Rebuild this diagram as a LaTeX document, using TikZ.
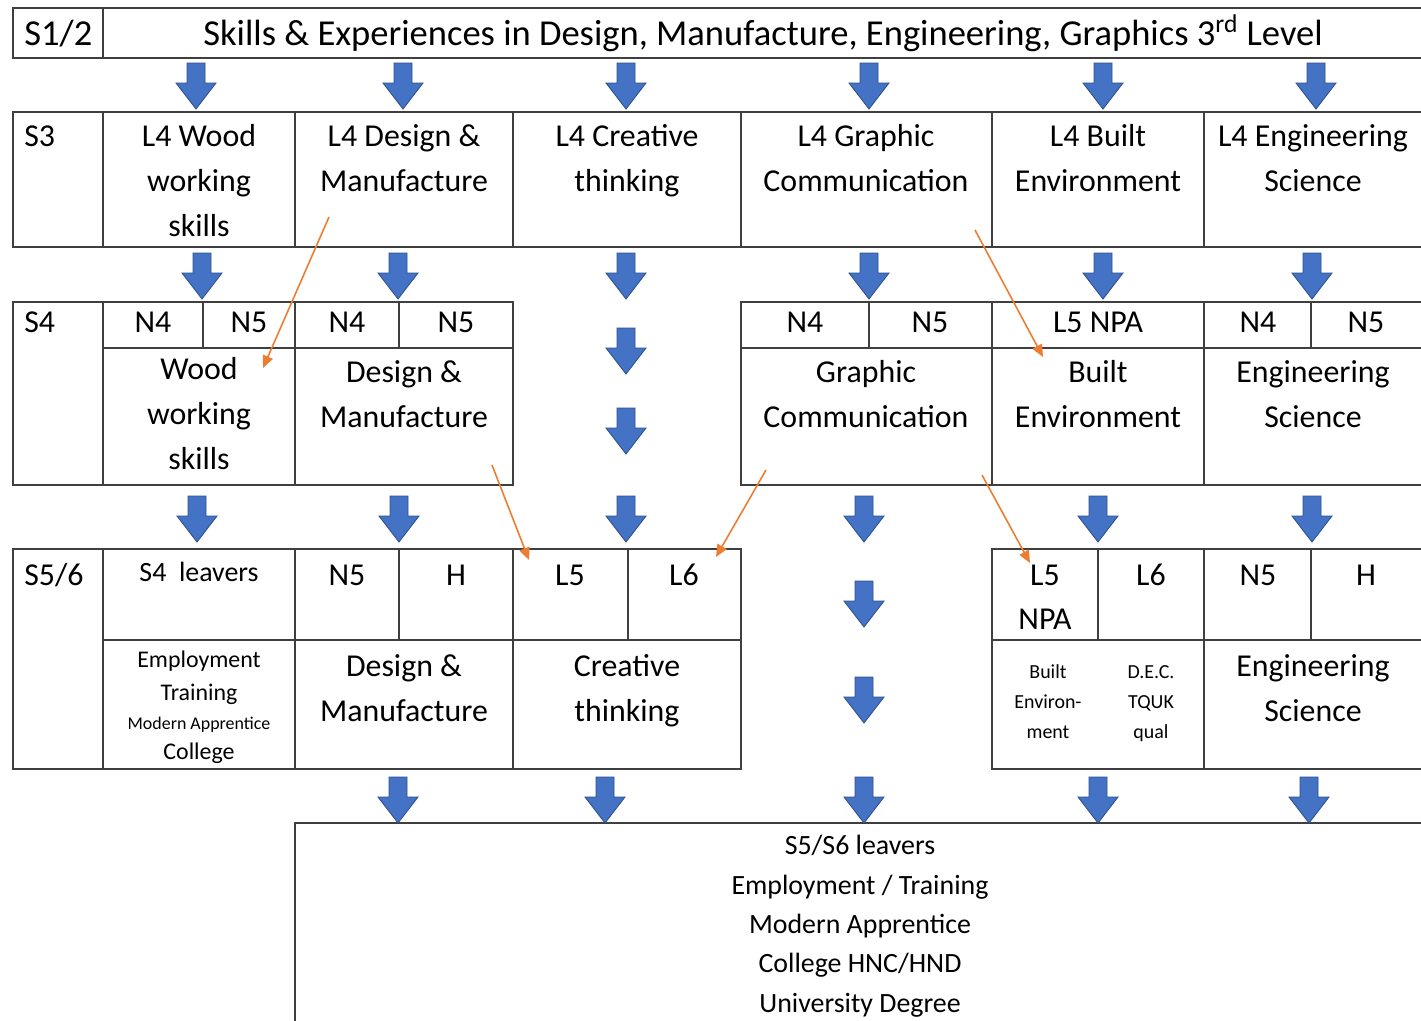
\documentclass[tikz,border=0pt]{standalone}
\usepackage{fontspec}
\setmainfont{Carlito}
\usetikzlibrary{arrows.meta}
\definecolor{gridc}{HTML}{3F3F3F}
\definecolor{bluef}{HTML}{4472C4}
\definecolor{blued}{HTML}{2F528F}
\definecolor{orng}{HTML}{ED7D31}
\newcommand\blk[2]{\filldraw[barrow] ({#1-9},{#2}) -- ({#1+9},{#2}) -- ({#1+9},{#2+20}) -- ({#1+20},{#2+20}) -- ({#1},{#2+46}) -- ({#1-20},{#2+20}) -- ({#1-9},{#2+20}) -- cycle;}
\tikzset{
  grid/.style={draw=gridc, line width=1.1pt},
  barrow/.style={fill=bluef, draw=blued, line width=0.5pt, line join=miter},
  oarrow/.style={draw=orng, line width=0.9pt, -{Triangle[length=7pt,width=6pt]}},
  txtL/.style={inner sep=0pt, anchor=base, font=\fontsize{20.8}{25}\selectfont},
  txtM/.style={inner sep=0pt, anchor=base, font=\fontsize{18.14}{22}\selectfont},
  txtS/.style={inner sep=0pt, anchor=base, font=\fontsize{15.87}{19}\selectfont},
  txtE/.style={inner sep=0pt, anchor=base, font=\fontsize{13.6}{16}\selectfont},
  txtB/.style={inner sep=0pt, anchor=base, font=\fontsize{11.34}{14}\selectfont},
  txtT/.style={inner sep=0pt, anchor=base, font=\fontsize{10.2}{12}\selectfont},
}
\begin{document}
\begin{tikzpicture}[x=0.02cm,y=-0.02cm]
\useasboundingbox (0,0) rectangle (1421,1021);
\clip (0,0) rectangle (1421,1021);
\fill[white] (0,0) rectangle (1421,1021);

% ---- grid lines ----
% S1/2
\draw[grid] (1430,8) -- (13,8) -- (13,58) -- (1430,58);
\draw[grid] (103,8) -- (103,58);
% S3
\draw[grid] (1430,112) -- (13,112) -- (13,247) -- (1430,247);
\foreach \x in {103,295,513,741,992,1204} {\draw[grid] (\x,112) -- (\x,247);}
% S4 left
\draw[grid] (13,302) rectangle (513,485);
\foreach \x in {103,295} {\draw[grid] (\x,302) -- (\x,485);}
\draw[grid] (103,348) -- (513,348);
\foreach \x in {203,399} {\draw[grid] (\x,302) -- (\x,348);}
% S4 right
\draw[grid] (1430,302) -- (741,302) -- (741,485) -- (1430,485);
\foreach \x in {992,1204} {\draw[grid] (\x,302) -- (\x,485);}
\draw[grid] (741,348) -- (1430,348);
\foreach \x in {869,1311} {\draw[grid] (\x,302) -- (\x,348);}
% S5/6 left
\draw[grid] (13,549) rectangle (741,769);
\foreach \x in {103,295,513} {\draw[grid] (\x,549) -- (\x,769);}
\draw[grid] (103,640) -- (741,640);
\foreach \x in {399,628} {\draw[grid] (\x,549) -- (\x,640);}
% S5/6 right
\draw[grid] (1430,549) -- (992,549) -- (992,769) -- (1430,769);
\draw[grid] (1204,549) -- (1204,769);
\draw[grid] (992,640) -- (1430,640);
\foreach \x in {1098,1311} {\draw[grid] (\x,549) -- (\x,640);}
% bottom box
\draw[grid] (1430,823) -- (295,823) -- (295,1030);

% ---- blue block arrows ----
\foreach \x in {196,403,626,869,1103,1316} {\blk{\x}{63}}
\foreach \x in {202,398,626,869,1103,1312} {\blk{\x}{253}}
\blk{626}{328}
\blk{626}{408}
\foreach \x in {197,399,626,864,1098,1312} {\blk{\x}{496}}
\blk{864}{581}
\blk{864}{677}
\foreach \x in {398,605,864,1098,1309} {\blk{\x}{777}}

% ---- texts ----
\node[txtL, anchor=base west] (s12) at (24,46) {S1/2};
\node[txtL] (title) at (763,46) {Skills \& Experiences in Design, Manufacture, Engineering, Graphics 3\textsuperscript{rd} Level};

\node[txtM, anchor=base west] (s3) at (24,146) {S3};
\node[txtM] (w1) at (199,146) {L4 Wood};
\node[txtM] (w2) at (199,191) {working};
\node[txtM] (w3) at (199,236) {skills};
\node[txtM] (d1) at (404,146) {L4 Design \&};
\node[txtM] (d2) at (404,191) {Manufacture};
\node[txtM] (c1) at (627,146) {L4 Creative};
\node[txtM] (c2) at (627,191) {thinking};
\node[txtM] (g1) at (866,146) {L4 Graphic};
\node[txtM] (g2) at (866,191) {Communication};
\node[txtM] (b1) at (1098,146) {L4 Built};
\node[txtM] (b2) at (1098,191) {Environment};
\node[txtM] (e1) at (1313,146) {L4 Engineering};
\node[txtM] (e2) at (1313,191) {Science};

\node[txtM, anchor=base west] (s4) at (24,332) {S4};
\node[txtM] (n4a) at (153,332) {N4};
\node[txtM] (n5a) at (249,332) {N5};
\node[txtM] (n4b) at (347,332) {N4};
\node[txtM] (n5b) at (456,332) {N5};
\node[txtM] (n4c) at (805,332) {N4};
\node[txtM] (n5c) at (930,332) {N5};
\node[txtM] (l5npa) at (1098,332) {L5 NPA};
\node[txtM] (n4d) at (1258,332) {N4};
\node[txtM] (n5d) at (1366,332) {N5};
\node[txtM] (sw1) at (199,379) {Wood};
\node[txtM] (sw2) at (199,424) {working};
\node[txtM] (sw3) at (199,469) {skills};
\node[txtM] (sd1) at (404,382) {Design \&};
\node[txtM] (sd2) at (404,427) {Manufacture};
\node[txtM] (sg1) at (866,382) {Graphic};
\node[txtM] (sg2) at (866,427) {Communication};
\node[txtM] (sb1) at (1098,382) {Built};
\node[txtM] (sb2) at (1098,427) {Environment};
\node[txtM] (se1) at (1313,382) {Engineering};
\node[txtM] (se2) at (1313,427) {Science};

\node[txtM, anchor=base west] (s56) at (24,585) {S5/6};
\node[txtS] (lv) at (199,581) {S4\ \ leavers};
\node[txtM] (hn5a) at (347,585) {N5};
\node[txtM] (hha) at (456,585) {H};
\node[txtM] (hl5a) at (570,585) {L5};
\node[txtM] (hl6a) at (684,585) {L6};
\node[txtM] (hl5b) at (1045,585) {L5};
\node[txtM] (hnpa) at (1045,629) {NPA};
\node[txtM] (hl6b) at (1151,585) {L6};
\node[txtM] (hn5b) at (1258,585) {N5};
\node[txtM] (hhb) at (1366,585) {H};
\node[txtE] (em1) at (199,667) {Employment};
\node[txtE] (em2) at (199,700) {Training};
\node[txtT] (em3) at (199,729) {Modern Apprentice};
\node[txtE] (em4) at (199,759) {College};
\node[txtM] (hd1) at (404,676) {Design \&};
\node[txtM] (hd2) at (404,721) {Manufacture};
\node[txtM] (hc1) at (627,676) {Creative};
\node[txtM] (hc2) at (627,721) {thinking};
\node[txtB] (be1) at (1048,678) {Built};
\node[txtB] (be2) at (1048,708) {Environ-};
\node[txtB] (be3) at (1048,738) {ment};
\node[txtB] (dec1) at (1151,678) {D.E.C.};
\node[txtB] (dec2) at (1151,708) {TQUK};
\node[txtB] (dec3) at (1151,738) {qual};
\node[txtM] (he1) at (1313,676) {Engineering};
\node[txtM] (he2) at (1313,721) {Science};

\node[txtS] (f1) at (860,854) {S5/S6 leavers};
\node[txtS] (f2) at (860,894) {Employment / Training};
\node[txtS] (f3) at (860,933) {Modern Apprentice};
\node[txtS] (f4) at (860,972) {College HNC/HND};
\node[txtS] (f5) at (860,1012) {University Degree};

% ---- orange arrows ----
\coordinate (o1a) at (329,217); \coordinate (o1b) at (263,368);
\coordinate (o2a) at (975,230); \coordinate (o2b) at (1043,357);
\coordinate (o3a) at (492,465); \coordinate (o3b) at (529,560);
\coordinate (o4a) at (766,470); \coordinate (o4b) at (716,557);
\coordinate (o5a) at (982,475); \coordinate (o5b) at (1030,563);
\draw[oarrow] (o1a) -- (o1b);
\draw[oarrow] (o2a) -- (o2b);
\draw[oarrow] (o3a) -- (o3b);
\draw[oarrow] (o4a) -- (o4b);
\draw[oarrow] (o5a) -- (o5b);
\end{tikzpicture}
\end{document}
